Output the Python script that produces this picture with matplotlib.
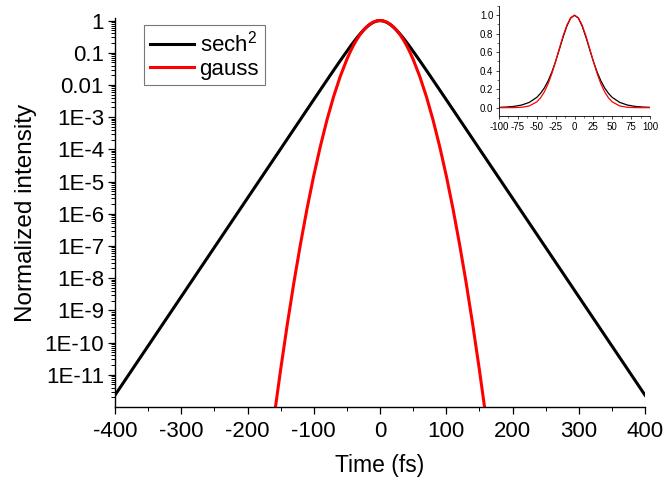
import matplotlib
matplotlib.use("Agg")
import matplotlib.pyplot as plt
from matplotlib.ticker import FixedLocator, LogLocator, MultipleLocator, NullFormatter

plt.rcParams["font.family"] = ["Liberation Sans", "DejaVu Sans"]
plt.rcParams["mathtext.fontset"] = "custom"
plt.rcParams["mathtext.rm"] = "Liberation Sans"
plt.rcParams["mathtext.it"] = "Liberation Sans"
plt.rcParams["axes.unicode_minus"] = False

# time axis (fs)
time_fs = [-400, -350, -300, -250, -200, -160, -150, -140, -130, -120, -110, -100,
           -90, -80, -70, -60, -50, -45, -40, -35, -30, -25, -20, -15, -10, -5,
           0, 5, 10, 15, 20, 25, 30, 35, 40, 45, 50, 60, 70, 80, 90, 100,
           110, 120, 130, 140, 150, 160, 200, 250, 300, 350, 400]

sech2 = [2.33e-12, 7.9e-11, 2.67e-9, 9.04e-8, 3.06e-6, 5.11e-5, 1.03e-4, 2.09e-4,
         4.23e-4, 8.55e-4, 1.73e-3, 3.49e-3, 7.05e-3, 0.0142, 0.0285, 0.0568,
         0.111, 0.155, 0.213, 0.289, 0.385, 0.501, 0.632, 0.766, 0.885, 0.970,
         1.0,
         0.970, 0.885, 0.766, 0.632, 0.501, 0.385, 0.289, 0.213, 0.155, 0.111,
         0.0568, 0.0285, 0.0142, 7.05e-3, 3.49e-3, 1.73e-3, 8.55e-4, 4.23e-4,
         2.09e-4, 1.03e-4, 5.11e-5, 3.06e-6, 9.04e-8, 2.67e-9, 7.9e-11, 2.33e-12]

gauss = [1e-77, 1e-59, 4.6e-44, 8.7e-31, 5.4e-20, 4.7e-13, 1.44e-11, 3.6e-10,
         7.27e-9, 1.16e-7, 1.49e-6, 1.53e-5, 1.25e-4, 8.26e-4, 4.37e-3, 0.0184,
         0.0625, 0.106, 0.170, 0.257, 0.369, 0.5, 0.642, 0.779, 0.895, 0.973,
         1.0,
         0.973, 0.895, 0.779, 0.642, 0.5, 0.369, 0.257, 0.170, 0.106, 0.0625,
         0.0184, 4.37e-3, 8.26e-4, 1.25e-4, 1.53e-5, 1.49e-6, 1.16e-7, 7.27e-9,
         3.6e-10, 1.44e-11, 4.7e-13, 5.4e-20, 8.7e-31, 4.6e-44, 1e-59, 1e-77]

ytick_vals = [1, 0.1, 0.01, 1e-3, 1e-4, 1e-5, 1e-6, 1e-7, 1e-8, 1e-9, 1e-10, 1e-11]
ytick_labels = ["1", "0.1", "0.01", "1E-3", "1E-4", "1E-5", "1E-6", "1E-7",
                "1E-8", "1E-9", "1E-10", "1E-11"]
inset_xticks = [-100, -75, -50, -25, 0, 25, 50, 75, 100]
inset_yticks = [0.0, 0.2, 0.4, 0.6, 0.8, 1.0]

fig = plt.figure(figsize=(6.64, 4.82), dpi=100)
ax = fig.add_axes([115 / 664, 1 - 407 / 482, 530 / 664, 389 / 482])

ax.plot(time_fs, sech2, color="black", lw=2.2, label="sech$^2$")
ax.plot(time_fs, gauss, color="#ff0000", lw=2.2, label="gauss")
ax.set_yscale("log")
ax.set_xlim(-400, 400)
ax.set_ylim(1e-12, 1.2)

for s in ["top", "right"]:
    ax.spines[s].set_visible(False)
for s in ["left", "bottom"]:
    ax.spines[s].set_linewidth(1.0)

ax.yaxis.set_major_locator(FixedLocator(ytick_vals))
ax.set_yticklabels(ytick_labels)
ax.yaxis.set_minor_locator(LogLocator(base=10, subs=range(2, 10), numticks=30))
ax.yaxis.set_minor_formatter(NullFormatter())
ax.xaxis.set_major_locator(MultipleLocator(100))
ax.xaxis.set_minor_locator(MultipleLocator(50))
ax.tick_params(which="major", direction="out", length=5, width=0.9, labelsize=16)
ax.tick_params(axis="x", which="major", pad=5)
ax.tick_params(axis="y", which="major", pad=3)
ax.tick_params(which="minor", direction="out", length=2.8, width=0.7)

ax.set_xlabel("Time (fs)", fontsize=16.5, labelpad=9)
ax.set_ylabel("Normalized intensity", fontsize=17.5, labelpad=5)

leg = ax.legend(loc="upper left", bbox_to_anchor=(144 / 664, 1 - 25 / 482),
                bbox_transform=fig.transFigure, borderaxespad=0, fontsize=16,
                fancybox=False, frameon=True, edgecolor="#555555",
                handlelength=2.0, handletextpad=0.25, labelspacing=0.1,
                borderpad=0.25)
leg.get_frame().set_linewidth(0.8)

# inset in linear scale
ins = fig.add_axes([499 / 664, 1 - 116 / 482, 151 / 664, 110 / 482])
ins.plot(time_fs, sech2, color="black", lw=0.9)
ins.plot(time_fs, gauss, color="#ff0000", lw=0.9)
ins.set_xlim(-100, 100)
ins.set_ylim(-0.09, 1.1)
for s in ["top", "right"]:
    ins.spines[s].set_visible(False)
for s in ["left", "bottom"]:
    ins.spines[s].set_linewidth(0.6)
ins.set_xticks(inset_xticks)
ins.set_xticklabels([str(v) for v in inset_xticks])
ins.set_yticks(inset_yticks)
ins.set_yticklabels([f"{v:.1f}" for v in inset_yticks])
ins.xaxis.set_minor_locator(MultipleLocator(12.5))
ins.yaxis.set_minor_locator(MultipleLocator(0.1))
ins.tick_params(which="major", direction="out", length=2.5, width=0.5, labelsize=7, pad=1.5)
ins.tick_params(which="minor", direction="out", length=1.5, width=0.4)

fig.savefig("out.png", dpi=100, facecolor="white")
